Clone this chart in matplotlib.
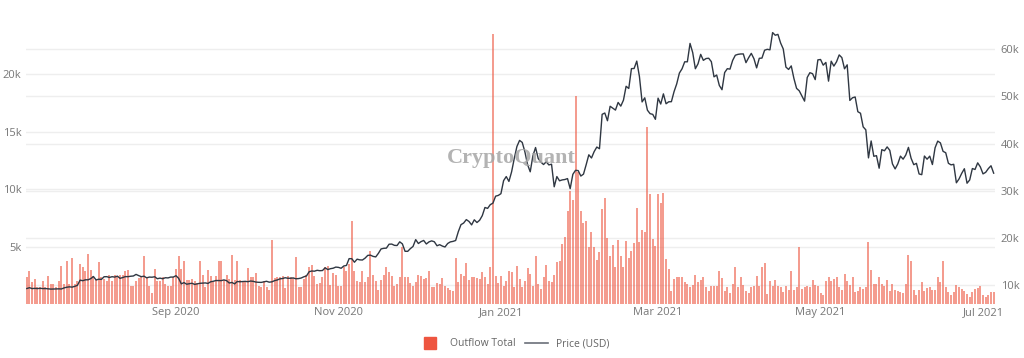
import matplotlib
matplotlib.use('Agg')
import matplotlib.pyplot as plt
import matplotlib.dates as mdates
from matplotlib.lines import Line2D
from matplotlib.ticker import FuncFormatter
import pandas as pd

# daily exchange outflow total (BTC), 2020-07-07 .. 2021-07-05
outflow_jul_oct = [
    2320, 2900, 1885, 2175, 1450, 1450, 2030, 1450, 2465, 1740, 1740, 1450, 2030, 3335, 1740, 3712,
    1740, 4002, 1740, 2030, 3480, 3190, 2900, 4350, 2958, 2465, 2175, 3625, 2320, 2175, 2030, 2552,
    2030, 2552, 2320, 2552, 2552, 2842, 2958, 1595, 1595, 2030, 2262, 2320, 4205, 2320, 1595, 928,
    3045, 1972, 1972, 2378, 1740, 1595, 1595, 2320, 3045, 4205, 3045, 3770, 2088, 2088, 2175, 1972,
    1798, 3712, 2552, 1508, 2958, 2465, 1885, 2465, 3712, 3712, 2088, 2552, 2175, 4292, 2088, 3770,
    2088, 2030, 1885, 3132, 2378, 2378, 2668, 1595, 1508, 1972, 1508, 1218, 5568, 2262, 2378, 2378,
    2436, 1392, 2465, 2320, 2262, 4060, 1508, 1508, 2175, 2552, 3190, 3422, 2465, 1740, 1798, 2378,
    3190, 3335, 1653, 2668, 2552, 1595,
]
outflow_nov_jan = [
    1595, 3190, 2842, 3480, 7192, 2842, 2030, 1885, 2900, 1885, 2320, 4640, 2552, 1972, 1218, 2088,
    2552, 3248, 2755, 2465, 1595, 1740, 2320, 4988, 2378, 2320, 1798, 1595, 1885, 2552, 2465, 2175,
    2262, 2900, 1508, 1450, 1798, 1740, 2262, 1595, 1392, 1218, 1160, 4002, 1885, 2610, 2465, 3538,
    2088, 2378, 2320, 2262, 2175, 2755, 2320, 1740, 3190, 23490, 2465, 1798, 2465, 1595, 2030, 2842,
]
outflow_jan_apr = [
    2755, 1450, 3335, 2175, 1450, 2030, 3132, 2610, 1595, 4205, 1740, 1305, 2320, 3422, 2030, 1885,
    2552, 3625, 3712, 5220, 5800, 8062, 9860, 9048, 18125, 11455, 8062, 7018, 7250, 4930, 6235, 4930,
    3828, 4495, 8265, 9222, 5742, 4205, 5162, 3190, 5568, 4205, 3248, 5510, 4002, 4640, 5278, 8352,
    5365, 6438, 6235, 15428, 9570, 5655, 5075, 9570, 8758, 9628, 3915, 3045, 1102, 2175, 2378, 2378,
    2320, 1885, 1740, 1450, 1682, 2552, 1885, 2088, 2320, 1508, 1102, 1595, 1595, 1595, 2900, 2262,
    1102, 1450, 928, 1740, 3248, 1450, 2378, 1682, 1102, 928, 1450, 1595,
]
outflow_apr_jul = [
    2465, 1595, 3190, 3538, 870, 2030, 1595, 2088, 1595, 1450, 1015, 1595, 1218, 2842, 1218, 1508,
    4988, 1305, 1508, 1595, 1450, 2088, 1682, 1595, 928, 812, 1972, 2320, 1972, 2175, 2320, 1508,
    1218, 2610, 2030, 1682, 2320, 1015, 1102, 1450, 1305, 1450, 5365, 2958, 1740, 1740, 2320, 1740,
    1595, 2088, 1160, 1740, 1218, 1160, 1015, 928, 1740, 4292, 3770, 1218, 812, 1218, 1943, 1102,
    1392, 1450, 1218, 1218, 2320, 1885, 3770, 1450, 1015, 812, 1015, 1653, 1450, 1305, 1160, 870,
    638, 1015, 1305, 1392, 1595, 812, 580, 812, 1015, 1073,
]
outflow = outflow_jul_oct + outflow_nov_jan + outflow_jan_apr + outflow_apr_jul

# daily price (USD)
price_jul20 = [9250, 9430, 9235, 9290, 9240, 9300, 9240, 9250, 9190, 9130, 9150, 9160, 9185, 9160,
               9390, 9530, 9610, 9550, 9710, 9930, 11030, 10910, 11100, 11110, 11350]
price_aug20 = [11800, 11070, 11230, 11190, 11750, 11770, 11600, 11760, 11680, 11880, 11410, 11580,
               11780, 11770, 11860, 11910, 12250, 11990, 11760, 11870, 11520, 11680, 11650, 11750,
               11330, 11460, 11320, 11540, 11500, 11680, 11680]
price_sep20 = [11970, 11410, 10240, 10510, 10170, 10280, 10370, 10130, 10240, 10360, 10400, 10440,
               10330, 10680, 10790, 10950, 10940, 10930, 11080, 10920, 10420, 10540, 10240, 10740,
               10690, 10730, 10770, 10700, 10840, 10780]
price_oct20 = [10620, 10570, 10550, 10670, 10790, 10600, 10670, 10920, 11060, 11300, 11380, 11540,
               11430, 11430, 11500, 11320, 11360, 11480, 11740, 11920, 12820, 12970, 12930, 13120,
               13030, 13070, 13650, 13270, 13460, 13560, 13800]
price_nov20 = [13740, 13550, 14030, 14150, 15590, 15580, 14830, 15480, 15330, 15300, 15700, 16280,
               16330, 16070, 15960, 16720, 17650, 17780, 17820, 18650, 18680, 18410, 18370, 19160,
               18720, 17150, 17140, 17720, 18180, 19630]
price_dec20 = [18800, 19200, 19450, 18700, 19150, 19360, 19170, 18320, 18550, 18260, 18060, 18800,
               19140, 19250, 19440, 21310, 22800, 23140, 23870, 23480, 22750, 23830, 23250, 23730,
               24710, 26440, 26250, 27040, 27360, 28840, 29000]
price_jan21 = [29370, 32130, 33000, 31970, 33990, 36820, 39370, 40670, 40240, 38240, 35540, 34010,
               37390, 39160, 36830, 36070, 35550, 36130, 35470, 35620, 30830, 33000, 32100, 32290,
               32370, 32570, 30430, 33470, 34320, 34270, 33110]
price_feb21 = [33520, 35510, 37620, 36940, 38290, 39260, 38900, 46200, 46480, 44840, 47910, 47500,
               47100, 48720, 47940, 49200, 52150, 51680, 55890, 55920, 57490, 54210, 48830, 49700,
               47080, 46340, 46190, 45140]
price_mar21 = [49630, 48380, 50540, 48440, 48860, 48880, 51010, 52660, 54950, 55860, 57340, 57340,
               61240, 59300, 55870, 56920, 58920, 57650, 58030, 58100, 57370, 54150, 54540, 52320,
               51420, 55060, 55880, 55790, 57630, 58730, 58920]
price_apr21 = [59000, 59010, 57160, 58210, 59130, 57990, 56050, 58080, 58130, 59800, 59990, 59880,
               63540, 62970, 63160, 61340, 60060, 56220, 55720, 56470, 53810, 51700, 51190, 50100,
               49000, 54020, 55030, 54820, 53560, 57750]
price_may21 = [57830, 56630, 57210, 53240, 57470, 56430, 57340, 58800, 58230, 55860, 56700, 49150,
               49710, 49880, 46760, 46430, 43540, 42910, 36960, 40550, 37300, 37430, 34770, 38710,
               38470, 39290, 38560, 35690, 34620, 35680, 37330]
price_jun21 = [36690, 37570, 39190, 36880, 35520, 35800, 33550, 33400, 37350, 36680, 37330, 35550,
               39100, 40520, 40140, 38350, 38050, 35820, 35480, 35600, 31680, 32500, 33680, 34660,
               31590, 32280, 34700, 34500, 35910, 35040]
price_jul21 = [33570, 33900, 34690, 35290, 33720]
price = (price_jul20 + price_aug20 + price_sep20 + price_oct20 + price_nov20 + price_dec20
         + price_jan21 + price_feb21 + price_mar21 + price_apr21 + price_may21 + price_jun21
         + price_jul21)

dates = pd.date_range('2020-07-07', periods=len(outflow), freq='D')

left_ticks = [5000, 10000, 15000, 20000]
right_ticks = [10000, 20000, 30000, 40000, 50000, 60000]

bar_color = '#ee5a45'
line_color = '#2f3742'
tick_color = '#777777'
grid_color = '#eeeeee'
font = 'Open Sans'

fig = plt.figure(figsize=(10.24, 3.58), dpi=100)
rect = [25.5 / 1024, 54 / 358, 969.5 / 1024, 281 / 358]
# right-axis grid sits behind everything
axg = fig.add_axes(rect)
ax1 = fig.add_axes(rect, sharex=axg)
ax2 = ax1.twinx()
axg.set_zorder(0)
ax1.set_zorder(1)
ax2.set_zorder(2)
ax1.patch.set_visible(False)
ax2.patch.set_visible(False)

ax1.bar(dates, outflow, width=0.75, color=bar_color, alpha=0.6, linewidth=0)
ax2.plot(dates, price, color=line_color, linewidth=1.0)

ax1.set_xlim(dates[0] - pd.Timedelta(hours=12), dates[-1] + pd.Timedelta(hours=12))
ax1.set_ylim(0, 24470)
ax2.set_ylim(5970, 65570)
axg.set_ylim(5970, 65570)

kfmt = FuncFormatter(lambda v, p: '%dk' % round(v / 1000))
ax1.set_yticks(left_ticks)
ax1.yaxis.set_major_formatter(kfmt)
ax2.set_yticks(right_ticks)
ax2.yaxis.set_major_formatter(kfmt)
axg.set_yticks(right_ticks)

ax1.xaxis.set_major_locator(mdates.MonthLocator(bymonth=[1, 3, 5, 7, 9, 11]))
ax1.xaxis.set_major_formatter(mdates.DateFormatter('%b %Y'))

for ax in (axg, ax1, ax2):
    for s in ax.spines.values():
        s.set_visible(False)
    ax.tick_params(length=0, labelsize=8, labelcolor=tick_color)
    ax.set_axisbelow(True)
    for lbl in ax.get_xticklabels() + ax.get_yticklabels():
        lbl.set_family(font)
axg.grid(axis='y', color=grid_color, linewidth=1)
axg.tick_params(labelleft=False, labelbottom=False)
ax1.grid(axis='y', color=grid_color, linewidth=1)
ax1.tick_params(axis='x', pad=2)
ax1.tick_params(axis='y', pad=3)
ax2.tick_params(axis='y', pad=4)

fig.text(511 / 1024, 1 - 158 / 358, 'CryptoQuant', ha='center', va='center',
         family='Liberation Serif', fontweight='bold', fontsize=16, color='#a6a6a6', alpha=0.85)

handles = [Line2D([], [], marker='s', linestyle='none', markersize=8, color='#ee5540'),
           Line2D([], [], color='#6b7079', linewidth=1.2)]
fig.legend(handles, ['Outflow Total', 'Price (USD)'], loc='center',
           bbox_to_anchor=(514 / 1024, 1 - 344 / 358), ncol=2, frameon=False,
           prop={'family': font, 'size': 7.5}, labelcolor='#666666',
           handlelength=2.2, columnspacing=0.9, handletextpad=0.8)

fig.savefig('out.png', dpi=100)
